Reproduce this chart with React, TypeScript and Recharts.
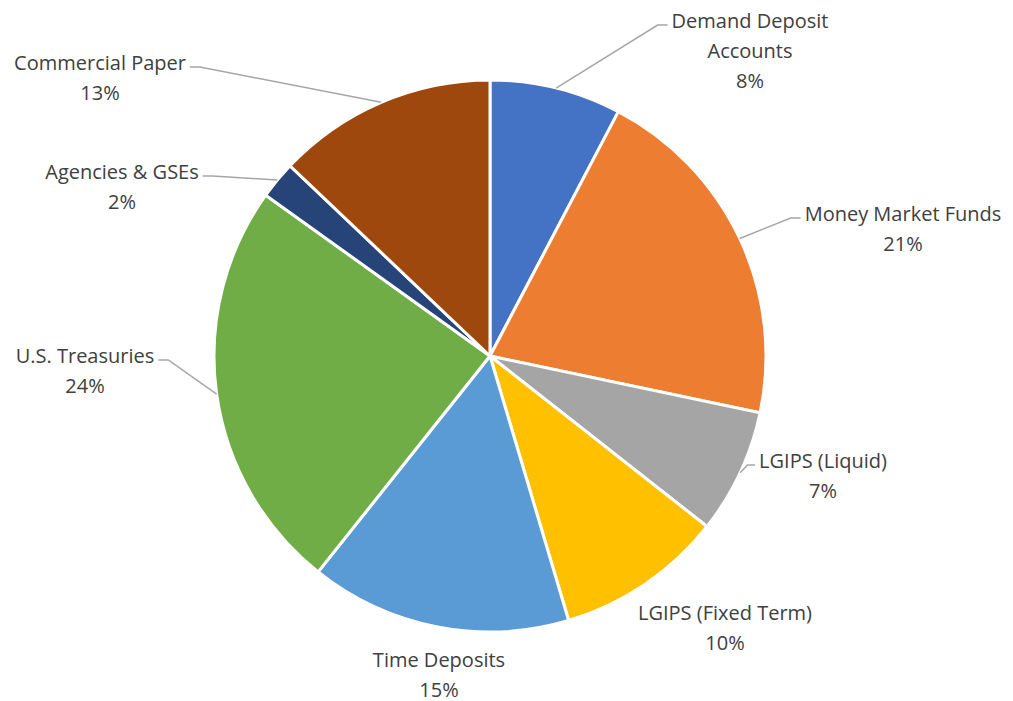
import { PieChart, Pie, Cell } from 'recharts';

const CATEGORIES = [
  'Demand Deposit\nAccounts',
  'Money Market Funds',
  'LGIPS (Liquid)',
  'LGIPS (Fixed Term)',
  'Time Deposits',
  'U.S. Treasuries',
  'Agencies & GSEs',
  'Commercial Paper',
];
const SHARES = [7.7, 20.6, 7.3, 9.8, 15.3, 24.2, 2.2, 12.9];
const COLORS = ['#4472C4', '#ED7D31', '#A5A5A5', '#FFC000', '#5B9BD5', '#70AD47', '#264478', '#9E480E'];

// where each label block sits, measured from the pie centre (px)
const LABEL_OFFSETS = [
  [260, -306],
  [413, -128],
  [333, 119],
  [235, 271],
  [-51, 318],
  [-405, 14],
  [-368, -170],
  [-390, -279],
];

const FONT = '"Open Sans", Lato, sans-serif';
const FONT_SIZE = 20;
const LINE_H = 30;
const RAD = Math.PI / 180;

const data = CATEGORIES.map((name, i) => ({ name, value: SHARES[i] }));

let ctx: CanvasRenderingContext2D | null = null;
function textWidth(s: string) {
  if (!ctx) ctx = document.createElement('canvas').getContext('2d');
  if (!ctx) return s.length * FONT_SIZE * 0.5;
  ctx.font = `${FONT_SIZE}px ${FONT}`;
  return ctx.measureText(s).width;
}

function renderLabel(props: any) {
  const { cx, cy, midAngle, outerRadius, percent, name, index } = props;
  const lines = [...String(name).split('\n'), `${Math.round(percent * 100)}%`];
  const [ox, oy] = LABEL_OFFSETS[index];
  const bx = cx + ox;
  const by = cy + oy;
  const top = by - ((lines.length - 1) * LINE_H) / 2;

  // leader line from the slice edge to the label box
  const ex = cx + outerRadius * Math.cos(-midAngle * RAD);
  const ey = cy + outerRadius * Math.sin(-midAngle * RAD);
  const w = Math.max(...lines.map(textWidth));
  const right = bx > ex;
  const nx = right ? bx - w / 2 - 4 : bx + w / 2 + 4;
  const ly = top + 5;
  const gap = right ? nx - ex : ex - nx;
  let leader = null;
  if (gap > 6) {
    const tick = Math.min(10, gap / 2);
    const kx = right ? nx - tick : nx + tick;
    leader = (
      <polyline
        points={`${ex},${ey} ${kx},${ly} ${nx},${ly}`}
        fill="none"
        stroke="#A6A6A6"
        strokeWidth={1.5}
      />
    );
  }

  return (
    <g key={`lbl-${index}`}>
      {leader}
      {lines.map((t, i) => (
        <text
          key={i}
          x={bx}
          y={top + i * LINE_H}
          textAnchor="middle"
          dominantBaseline="central"
          fontFamily={FONT}
          fontSize={FONT_SIZE}
          fill="#404040"
        >
          {t}
        </text>
      ))}
    </g>
  );
}

export default function App() {
  return (
    <div style={{ position: 'absolute', left: 0, top: 0, background: '#fff' }}>
      <PieChart width={1013} height={701} margin={{ top: 0, right: 0, bottom: 0, left: 0 }}>
        <Pie
          data={data}
          dataKey="value"
          nameKey="name"
          cx={490}
          cy={356}
          outerRadius={276}
          startAngle={90}
          endAngle={-270}
          stroke="#fff"
          strokeWidth={3}
          label={renderLabel}
          labelLine={false}
          isAnimationActive={false}
        >
          {data.map((d, i) => (
            <Cell key={d.name} fill={COLORS[i]} />
          ))}
        </Pie>
      </PieChart>
    </div>
  );
}
